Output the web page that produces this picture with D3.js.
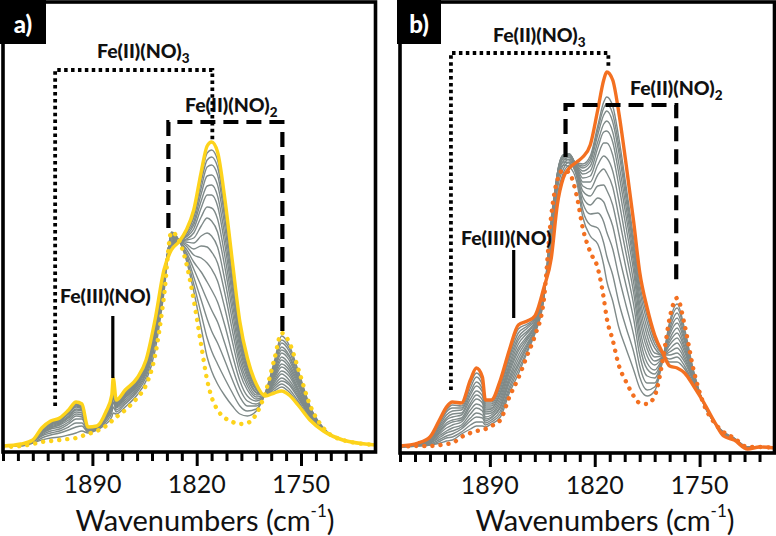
<!DOCTYPE html>
<html><head><meta charset="utf-8">
<script src="https://cdn.jsdelivr.net/npm/d3@7/dist/d3.min.js"></script>
<style>html,body{margin:0;padding:0;background:#fff;}svg{display:block;}</style>
</head><body>
<svg id="chart" width="776" height="536"></svg>
<script>
// ---------- Panel a data (absorbance, arbitrary units) ----------
const wavenumbersA = [1950,1938,1930,1924,1918,1912,1906,1901,1897,1893,1887,1881,1877,1876,1874,1868,1860,1854,1848,1842,1837,1832,1827,1822,1817,1813,1810,1806,1801,1796,1791,1786,1780,1774,1768,1763,1758,1752,1744,1735,1722,1700];
const initialA = [-1,0,2,4,5,6,7,8,10,12,15,20,25,27,29,36,48,61,90,149,214,206,183,146,101,66,49,36,28,24,22,23,32,53,86,113,104,78,41,18,6,1];
const finalA = [0,2,6,18,25,28,36,44,42,19,20,34,51,68,46,56,68,86,126,176,196,204,216,236,274,300,304,294,246,184,124,88,62,50,53,55,51,41,26,15,6,1];
// intermediate spectra: one row per wavenumber, one column per spectrum
const intermediateA = [
[0,0,0,0,0,0,0,0,0,0,0,0,0,0,0,0],
[0,1,1,1,1,1,1,2,2,2,2,2,2,2,2,2],
[3,3,4,4,4,5,5,5,5,5,6,6,6,6,6,6],
[6,8,10,11,12,13,14,15,15,16,16,17,17,17,18,18],
[8,11,13,15,17,18,19,20,21,22,23,23,24,24,24,25],
[9,13,15,17,19,21,22,23,24,25,25,26,26,27,27,28],
[11,16,19,22,24,26,28,29,30,32,33,33,34,35,35,36],
[13,19,23,27,30,32,34,36,37,39,40,41,42,42,43,44],
[15,20,23,27,29,31,33,35,36,37,38,39,40,40,41,42],
[13,14,15,16,16,17,17,17,18,18,18,18,18,19,19,19],
[16,17,17,18,18,18,19,19,19,19,19,20,20,20,20,20],
[22,24,26,27,28,29,30,31,31,32,32,33,33,33,34,34],
[29,33,36,39,41,42,44,45,46,47,48,49,49,50,50,51],
[33,39,44,48,52,54,57,59,60,62,63,64,65,66,67,68],
[32,34,36,38,39,40,41,42,43,43,44,44,45,45,45,46],
[39,42,44,46,48,49,50,51,52,53,54,54,55,55,55,56],
[51,54,56,58,60,61,62,63,64,65,66,66,67,67,67,68],
[65,69,72,74,76,78,79,80,81,82,83,84,84,85,85,86],
[95,101,105,109,112,114,116,118,119,121,122,123,123,124,125,126],
[153,157,160,163,165,167,168,170,171,172,173,174,174,175,175,176],
[214,213,212,211,210,209,208,207,206,205,204,203,202,201,200,198],
[206,206,206,205,205,205,205,205,205,205,205,204,204,204,204,204],
[186,189,192,194,197,200,202,204,206,207,209,210,212,213,214,215],
[155,162,169,177,184,191,197,203,208,213,217,221,224,228,231,233],
[118,132,146,160,174,188,200,210,220,229,238,245,252,258,264,269],
[89,108,127,146,164,183,199,213,228,239,251,260,270,279,286,293],
[75,95,115,136,156,177,194,210,225,238,251,261,271,281,289,296],
[62,82,103,124,144,165,183,199,214,227,240,250,261,271,279,286],
[50,67,85,102,120,137,152,165,178,189,200,209,218,226,233,239],
[40,53,66,78,91,104,115,125,134,142,150,157,163,170,174,179],
[32,40,49,57,65,73,80,86,92,98,103,107,111,115,118,121],
[30,35,40,45,50,56,60,64,68,71,74,77,80,82,84,86],
[35,37,40,42,45,47,49,51,53,54,56,57,58,59,60,61],
[53,53,52,52,52,52,52,52,51,51,51,51,51,50,50,50],
[84,82,80,78,76,74,72,70,69,67,65,63,61,59,57,55],
[110,106,103,99,96,93,89,86,82,79,75,72,68,65,62,59],
[101,98,95,91,89,86,82,79,76,73,70,66,63,61,57,54],
[76,74,71,69,67,65,63,61,58,56,54,52,50,48,45,43],
[40,39,38,37,37,36,35,34,33,32,31,30,30,29,28,27],
[18,18,17,17,17,17,17,17,16,16,16,16,16,15,15,15],
[6,6,6,6,6,6,6,6,6,6,6,6,6,6,6,6],
[1,1,1,1,1,1,1,1,1,1,1,1,1,1,1,1]
];

// ---------- Panel b data ----------
const wavenumbersB = [1950,1938,1930,1923,1919,1915,1909,1903,1899,1895,1893,1889,1883,1877,1871,1865,1860,1854,1849,1845,1841,1837,1832,1828,1823,1818,1814,1812,1808,1804,1799,1794,1790,1785,1780,1774,1770,1765,1760,1754,1747,1740,1734,1727,1718,1710,1700];
const initialB = [0,1,1,2,3,4,10,14,16,17,18,21,27,50,69,92,111,147,232,267,277,274,251,219,195,179,149,129,107,82,65,51,44,43,51,92,129,149,122,77,42,24,15,9,0,0,-1];
const finalB = [1,4,10,29,40,45,44,67,79,70,47,47,67,97,122,126,131,159,189,242,269,279,285,290,302,337,367,375,367,335,282,225,175,139,112,92,81,79,74,61,44,25,11,7,-2,0,-1];
const intermediateB = [
[0,0,0,0,0,0,1,1,1,1,1,1,1],
[1,1,2,2,2,2,3,3,3,3,3,4,4],
[2,2,3,4,4,5,6,6,7,7,8,9,9],
[4,6,8,10,12,14,16,17,19,21,23,25,27],
[6,9,11,14,16,19,22,24,27,29,32,35,37],
[7,10,13,16,19,22,25,27,30,33,36,39,42],
[13,15,18,20,22,25,27,29,32,34,37,39,41],
[18,22,26,29,33,37,41,44,48,52,55,59,63],
[21,25,30,34,39,43,48,52,56,61,65,70,74],
[21,25,29,32,36,40,44,47,51,55,58,62,66],
[20,22,24,26,28,30,33,35,37,39,41,43,45],
[23,25,27,29,30,32,34,36,38,39,41,43,45],
[30,33,36,39,41,44,47,50,53,55,58,61,64],
[54,57,60,64,67,70,74,77,80,83,87,90,93],
[73,77,81,84,88,92,96,99,103,107,110,114,118],
[95,97,100,102,104,107,109,111,114,116,119,121,123],
[113,114,115,117,118,120,121,122,124,125,127,128,129],
[148,149,150,150,151,152,153,154,155,156,156,157,158],
[229,226,223,220,217,214,211,208,205,202,199,196,192],
[268,270,271,272,273,273,273,272,270,267,262,257,250],
[282,285,288,290,291,292,292,291,289,286,282,278,274],
[280,284,287,290,292,293,293,293,292,290,288,285,282],
[265,270,272,274,276,277,279,280,281,282,283,283,284],
[230,237,244,250,256,261,265,269,273,276,279,281,283],
[211,222,233,242,251,258,265,271,276,281,285,288,291],
[203,219,234,249,261,272,282,291,299,305,312,317,321],
[182,204,225,245,262,278,291,304,315,323,332,339,345],
[166,191,215,237,257,274,289,304,316,326,336,343,350],
[146,172,198,221,242,260,276,292,305,315,325,333,341],
[120,145,171,193,214,231,247,262,274,284,295,302,310],
[98,119,141,161,178,193,206,219,230,239,247,254,260],
[77,95,112,128,142,154,164,175,183,190,197,202,208],
[59,70,81,92,102,111,119,128,136,143,150,157,163],
[51,57,64,71,78,84,91,98,104,111,118,125,131],
[56,60,64,69,73,77,82,86,90,94,99,103,107],
[92,92,92,92,92,92,92,92,92,92,92,92,92],
[125,122,118,115,112,108,105,102,98,95,92,88,85],
[143,139,134,129,124,119,114,109,104,99,94,90,85],
[118,115,111,108,105,101,98,95,91,88,85,81,78],
[76,75,73,72,71,70,69,68,67,66,65,63,62],
[42,42,42,43,43,43,43,43,43,43,44,44,44],
[24,24,24,24,24,24,24,25,25,25,25,25,25],
[15,15,14,14,14,13,13,13,12,12,12,11,11],
[9,9,9,8,8,8,8,8,8,8,7,7,7],
[0,0,0,0,-1,-1,-1,-1,-1,-1,-2,-2,-2],
[0,0,0,0,0,0,0,0,0,0,0,0,0],
[-1,-1,-1,-1,-1,-1,-1,-1,-1,-1,-1,-1,-1]
];

// ---------- axis ----------
const xDomain = [1950, 1700];
const majorTicks = [1890, 1820, 1750];
const minorTicks = [1950,1940,1930,1920,1910,1900,1880,1870,1860,1850,1840,1830,1810,1800,1790,1780,1770,1760,1740,1730,1720,1710];
const axisTitle = "Wavenumbers (cm";
const axisTitleSup = "-1";
const panelLetters = ["a)", "b)"];

// ---------- annotations ----------
const annotA = {
  dotted: {wnL: 1915, wnR: 1809.5, yTop: 70, yL: 406, yR: 140},
  dashed: {wnL: 1839, wnR: 1762.5, yTop: 122, yL: 228, yR: 331},
  fe3: {wn: 1876.3, y1: 316, y2: 378},
  labels: [
    {text: "Fe(II)(NO)", sub: "3", x: 97, y: 58},
    {text: "Fe(II)(NO)", sub: "2", x: 185, y: 112},
    {text: "Fe(III)(NO)", sub: null, x: 60, y: 303}
  ]
};
const annotB = {
  dotted: {wnL: 1916, wnR: 1810.9, yTop: 53, yL: 390, yR: 66},
  dashed: {wnL: 1839.5, wnR: 1765.6, yTop: 105, yL: 157, yR: 286},
  fe3: {wn: 1874.1, y1: 250, y2: 318},
  labels: [
    {text: "Fe(II)(NO)", sub: "3", x: 493, y: 42},
    {text: "Fe(II)(NO)", sub: "2", x: 630, y: 95},
    {text: "Fe(III)(NO)", sub: null, x: 461, y: 245}
  ]
};

const svg = d3.select("#chart");
const FONT = "Lato, 'Open Sans', 'DejaVu Sans', sans-serif";

function drawPanel(o) {
  const g = svg.append("g");
  const x = d3.scaleLinear().domain(xDomain).range([o.x0, o.x1]);
  const y = d3.scaleLinear().domain([0, 444]).range([o.base, o.base - 444]);
  const clipId = "clip" + o.id;
  svg.append("clipPath").attr("id", clipId).append("rect")
    .attr("x", o.x0).attr("y", o.top).attr("width", o.x1 - o.x0).attr("height", o.axisY - o.top);

  const wn = o.wn;
  const line = d3.line().x((d, i) => x(wn[i])).y(d => y(d)).curve(d3.curveMonotoneX);
  const series = o.inter[0].map((_, j) => o.inter.map(r => r[j]));
  const curves = g.append("g").attr("clip-path", `url(#${clipId})`);
  curves.selectAll("path.gray").data(series).join("path").attr("class", "gray")
    .attr("d", line).attr("fill", "none").attr("stroke", "#7f8a89").attr("stroke-width", 1.4);
  curves.append("path").attr("d", line(o.initial)).attr("fill", "none")
    .attr("stroke", o.color).attr("stroke-width", 4.4).attr("stroke-linecap", "round")
    .attr("stroke-dasharray", "0.1 8");
  curves.append("path").attr("d", line(o.final)).attr("fill", "none")
    .attr("stroke", o.color).attr("stroke-width", 3.4).attr("stroke-linejoin", "round");

  // labels
  const a = o.annot;
  a.labels.forEach(l => {
    const t = g.append("text").attr("x", l.x).attr("y", l.y)
      .attr("font-family", FONT).attr("font-weight", 900).attr("font-size", 19.5).attr("fill", "#111");
    t.append("tspan").text(l.text);
    if (l.sub) t.append("tspan").attr("dy", 5).attr("font-size", 13.5).text(l.sub);
  });
  // brackets
  g.append("path")
    .attr("d", `M${x(a.dotted.wnL)},${a.dotted.yL}V${a.dotted.yTop}H${x(a.dotted.wnR)}V${a.dotted.yR}`)
    .attr("fill", "none").attr("stroke", "#000").attr("stroke-width", 3.8).attr("stroke-dasharray", "3.5 3.4");
  g.append("path")
    .attr("d", `M${x(a.dashed.wnL)},${a.dashed.yL}V${a.dashed.yTop}H${x(a.dashed.wnR)}V${a.dashed.yR}`)
    .attr("fill", "none").attr("stroke", "#000").attr("stroke-width", 4.2).attr("stroke-dasharray", "15 8");
  g.append("line").attr("x1", x(a.fe3.wn)).attr("x2", x(a.fe3.wn)).attr("y1", a.fe3.y1).attr("y2", a.fe3.y2)
    .attr("stroke", "#000").attr("stroke-width", 3.2);

  // frame
  g.append("rect").attr("x", o.x0).attr("y", o.top).attr("width", o.x1 - o.x0).attr("height", o.axisY - o.top)
    .attr("fill", "none").attr("stroke", "#000").attr("stroke-width", 3.6);

  // axis ticks
  const ax = g.append("g").attr("transform", `translate(0,${o.axisY})`);
  const minorAxis = d3.axisBottom(x).tickValues(minorTicks).tickSize(9).tickSizeOuter(0).tickFormat("");
  const majorAxis = d3.axisBottom(x).tickValues(majorTicks).tickSize(14).tickSizeOuter(0).tickFormat("");
  ax.append("g").call(minorAxis);
  ax.append("g").call(majorAxis);
  ax.selectAll(".domain").remove();
  ax.selectAll(".tick line").attr("stroke", "#000").attr("stroke-width", 3);
  // tick labels
  g.selectAll("text.tl").data(majorTicks).join("text").attr("class", "tl")
    .attr("x", d => x(d)).attr("y", o.axisY + 41).attr("text-anchor", "middle")
    .attr("font-family", FONT).attr("font-size", 25).attr("fill", "#111").text(d => String(d));
  // axis title
  const tt = g.append("text").attr("x", o.titleX).attr("y", 531).attr("text-anchor", "middle")
    .attr("font-family", FONT).attr("font-size", 29).attr("fill", "#111");
  tt.append("tspan").text(axisTitle);
  tt.append("tspan").attr("dy", -14).attr("font-size", 17).text(axisTitleSup);
  tt.append("tspan").attr("dy", 14).text(")");

  // panel letter box
  g.append("rect").attr("x", o.x0 - 3).attr("y", 0).attr("width", o.boxW).attr("height", 44).attr("fill", "#000");
  g.append("text").attr("x", o.x0 - 3 + o.boxW / 2).attr("y", 33).attr("text-anchor", "middle")
    .attr("font-family", FONT).attr("font-weight", 900).attr("font-size", 24).attr("fill", "#fff").text(o.letter);
}

drawPanel({id: "a", x0: 3, x1: 375.5, top: 2, axisY: 452, base: 446, wn: wavenumbersA,
  initial: initialA, final: finalA, inter: intermediateA, color: "#fdd31b", annot: annotA,
  titleX: 205, boxW: 46, letter: panelLetters[0]});
drawPanel({id: "b", x0: 400, x1: 774.5, top: 2, axisY: 453, base: 447, wn: wavenumbersB,
  initial: initialB, final: finalB, inter: intermediateB, color: "#f37021", annot: annotB,
  titleX: 605, boxW: 44, letter: panelLetters[1]});
</script>
</body></html>
